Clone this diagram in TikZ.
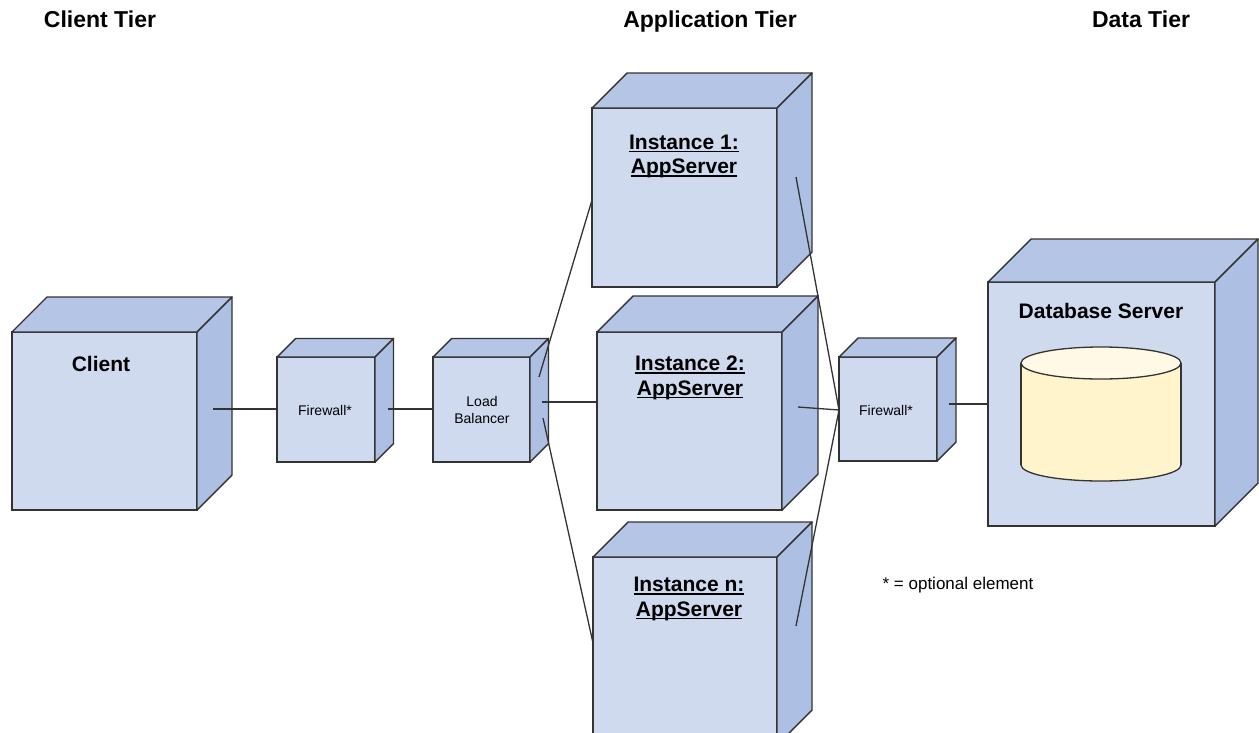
\documentclass[tikz,border=0pt]{standalone}
\usepackage{fontspec}
\setmainfont{Liberation Sans}
\definecolor{frontc}{HTML}{D0DAEE}
\definecolor{topc}{HTML}{B4C5E5}
\definecolor{sidec}{HTML}{ADC0E3}
\definecolor{edgec}{HTML}{333333}
\definecolor{cylbody}{HTML}{FFF4CC}
\definecolor{cyltop}{HTML}{FFF9E6}
\newcommand\ulbox[1]{\setbox0\hbox{#1}\rlap{\rule[-3pt]{\wd0}{1.7pt}}\box0}
\tikzset{
  frontface/.style={draw=edgec, fill=frontc, line width=1.4pt, inner sep=0pt, outer sep=0pt, rectangle},
  topface/.style={draw=edgec, fill=topc, line width=1.4pt, line join=round},
  sideface/.style={draw=edgec, fill=sidec, line width=1.4pt, line join=round},
  wire/.style={draw=edgec, line width=1.3pt},
  tierlabel/.style={font=\fontsize{23}{27}\selectfont\bfseries, anchor=base, inner sep=0pt},
  boxlabel/.style={font=\fontsize{21}{24.5}\selectfont\bfseries, align=center, inner sep=0pt},
  smalllabel/.style={font=\fontsize{14}{16}\selectfont, align=center, inner sep=0pt},
  cyl/.style={draw=edgec, line width=1.3pt}
}
% #1 name, #2 x1, #3 y1, #4 x2, #5 y2, #6 depth
\newcommand\devcube[6]{%
  \node[frontface, minimum width={(#4-#2)*1pt}, minimum height={(#5-#3)*1pt}] (#1) at ({(#2+#4)/2},{(#3+#5)/2}) {};
  \draw[topface] (#1.north west) -- ++(#6,-#6) -- ++({#4-#2},0) -- (#1.north east) -- cycle;
  \draw[sideface] (#1.north east) -- ++(#6,-#6) -- ++(0,{#5-#3}) -- (#1.south east) -- cycle;
}
\begin{document}
\begin{tikzpicture}[x=1pt,y=-1pt]
\useasboundingbox (0,0) rectangle (1259,732);

% tier headers
\node[tierlabel] (tclient) at (100,27) {Client Tier};
\node[tierlabel] (tapp) at (710,27) {Application Tier};
\node[tierlabel] (tdata) at (1141,27) {Data Tier};

% devices
\devcube{client}{12}{332}{197}{510}{35}
\devcube{fw1}{277}{357}{375}{462}{18.5}
\devcube{lb}{433}{357}{530}{462}{18.5}
\devcube{inst1}{592}{108}{777}{287}{35}
\devcube{inst2}{597}{332}{782}{510}{36}
\devcube{instn}{593}{557}{777}{745}{35}
\devcube{fw2}{839}{357}{937}{461}{19}
\devcube{db}{988}{282}{1215}{526}{43}

% labels
\node[boxlabel] (lclient) at (101,363.5) {Client};
\node[smalllabel] (lfw1) at (325,410) {Firewall*};
\node[smalllabel] (llb) at (482,410) {Load\\[1pt]Balancer};
\node[boxlabel] (linst1) at (684,156.5) {\ulbox{Instance 1:}\\\ulbox{AppServer}};
\node[boxlabel] (linst2) at (690,378) {\ulbox{Instance 2:}\\\ulbox{AppServer}};
\node[boxlabel] (linstn) at (689,599) {\ulbox{Instance n:}\\\ulbox{AppServer}};
\node[smalllabel] (lfw2) at (886,410) {Firewall*};
\node[boxlabel] (ldb) at (1101,311) {Database Server};
\node[font=\fontsize{17}{20}\selectfont, inner sep=0pt] (note) at (958,585) {* = optional element};

% database cylinder
\draw[cyl, fill=cylbody] (1101,465) ellipse [x radius=80, y radius=16];
\fill[cylbody] (1021,363) rectangle (1181,465);
\draw[cyl] (1021,363) -- (1021,465) (1181,363) -- (1181,465);
\draw[cyl, fill=cyltop] (1101,363) ellipse [x radius=80, y radius=16];

% connector end points
\coordinate (cOut) at (213,409);
\coordinate (fw1Out) at (388,409);
\coordinate (lbOut1) at (539,377);
\coordinate (lbOut2) at (542,402);
\coordinate (lbOut3) at (543,418);
\coordinate (i1In) at (592,200);
\coordinate (i2In) at (597,402);
\coordinate (inIn) at (593,643);
\coordinate (i1Out) at (796,177);
\coordinate (i2Out) at (798,407);
\coordinate (inOut) at (796,626);
\coordinate (fw2In) at (839,410);
\coordinate (fw2Out) at (949,404);

% connectors
\draw[wire] (cOut) -- (fw1.west |- cOut);
\draw[wire] (fw1Out) -- (lb.west |- fw1Out);
\draw[wire] (lbOut1) -- (i1In);
\draw[wire] (lbOut2) -- (i2In);
\draw[wire] (lbOut3) -- (inIn);
\draw[wire] (i1Out) -- (fw2In);
\draw[wire] (i2Out) -- (fw2In);
\draw[wire] (inOut) -- (fw2In);
\draw[wire] (fw2Out) -- (db.west |- fw2Out);
\end{tikzpicture}
\end{document}
